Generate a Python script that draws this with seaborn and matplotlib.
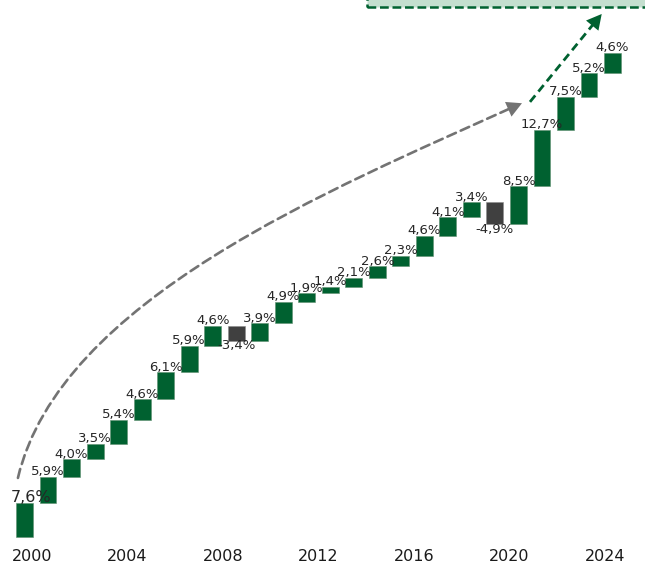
import numpy as np
import pandas as pd
import matplotlib.pyplot as plt
import seaborn as sns
from matplotlib.patches import FancyArrowPatch, Rectangle
from matplotlib.path import Path

# growth per year (waterfall steps)
years = list(range(2000, 2026))
growth = [7.6, 5.9, 4.0, 3.5, 5.4, 4.6, 6.1, 5.9, 4.6, -3.4, 3.9, 4.9, 1.9, 1.4,
          2.1, 2.6, 2.3, 4.6, 4.1, 3.4, -4.9, 8.5, 12.7, 7.5, 5.2, 4.6]
tick_years = [2000, 2004, 2008, 2012, 2016, 2020, 2024]

green = '#006130'
grey_bar = '#404040'
grey_arrow = '#737373'

data = pd.DataFrame({'year': years, 'growth': growth})
data['level'] = data['growth'].cumsum()
data['start'] = data['level'] - data['growth']

sns.set_style('white')
plt.rcParams['font.family'] = ['DejaVu Sans']

fig = plt.figure(figsize=(6.45, 5.63), dpi=100)
ax = fig.add_axes([0, 25 / 563, 1, 538 / 563])

sns.barplot(data=data, x='year', y='growth', bottom=data['start'].values,
            color=green, width=0.72, errorbar=None, saturation=1, ax=ax,
            edgecolor='#5f8f70', linewidth=0.4)

# negative years in dark grey
for bar, v in zip(ax.patches, growth):
    if v < 0:
        bar.set_facecolor(grey_bar)
        bar.set_edgecolor('#8a8a8a')

labels = [f'{v:.1f}%'.replace('.', ',') for v in growth]
texts = ax.bar_label(ax.containers[0], labels=labels, padding=-1,
                     fontsize=9.5, color='#262626')
texts[0].set_fontsize(11.5)
texts[0].xyann = (5, -1)


def head(tip, back, color):
    # solid arrow head only
    ax.annotate('', xy=tip, xytext=back,
                arrowprops=dict(arrowstyle='-|>,head_length=0.6,head_width=0.32',
                                mutation_scale=18, color=color, lw=0,
                                shrinkA=0, shrinkB=0))


# curved grey arrow (long run trend)
verts = [(-0.28, 13.3), (1.51, 53.4), (12.99, 78.2), (20.84, 96.99)]
codes = [Path.MOVETO, Path.CURVE4, Path.CURVE4, Path.CURVE4]
curve = FancyArrowPatch(path=Path(verts, codes), arrowstyle='-',
                        color=grey_arrow, lw=1.9, linestyle=(0, (3.5, 2)))
ax.add_patch(curve)
head((21.15, 97.7), (20.38, 95.9), grey_arrow)

# green arrow to the box
ax.plot([21.49, 24.32], [98.0, 116.4], color=green, lw=2,
        linestyle=(0, (3, 1.8)))
head((24.54, 117.8), (24.0, 114.3), green)

box = Rectangle((14.55, 119.3), 20, 10, facecolor='#c4dfcf', edgecolor=green,
                lw=1.8, linestyle=(0, (3.5, 1.5)))
ax.add_patch(box)

tick_pos = [(y - 2000) * 1.015 + 0.32 for y in tick_years]
ax.set_xticks(tick_pos)
ax.set_xticklabels([str(y) for y in tick_years], fontsize=11.5, color='#1a1a1a')
ax.tick_params(axis='x', length=0, pad=8)
ax.set_yticks([])
ax.set_xlabel('')
ax.set_ylabel('')
for s in ax.spines.values():
    s.set_visible(False)

ax.set_xlim(-1.042, 26.38)
ax.set_ylim(-0.225, 120.95)

fig.savefig('out.png', dpi=100)
